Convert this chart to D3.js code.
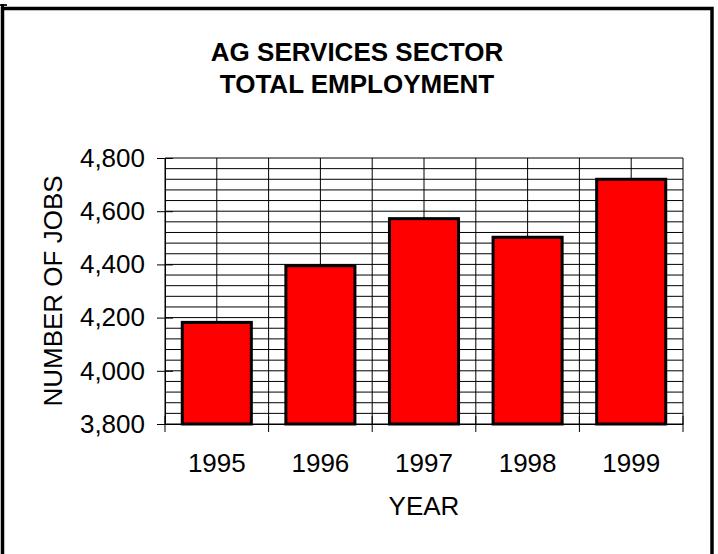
<!DOCTYPE html>
<html>
<head>
<meta charset="utf-8">
<script src="https://cdn.jsdelivr.net/npm/d3@7"></script>
<style>
  body { margin: 0; background: #fff; }
  text { font-family: "Liberation Sans", Arial, sans-serif; fill: #000; }
</style>
</head>
<body>
<svg></svg>
<script>
// data
var years = ["1995", "1996", "1997", "1998", "1999"];
var jobs = [4182, 4395, 4572, 4502, 4720];
var yTicks = [3800, 4000, 4200, 4400, 4600, 4800];
var yMinor = d3.range(3800, 4801, 40);
var titleLines = ["AG SERVICES SECTOR", "TOTAL EMPLOYMENT"];

var width = 718, height = 554;
var svg = d3.select("svg").attr("width", width).attr("height", height);

var plot = { left: 165, right: 683, top: 158, bottom: 424 };
var fs = 26;

var x = d3.scaleBand()
    .domain(years)
    .range([plot.left, plot.right])
    .paddingInner(1 / 3)
    .paddingOuter(1 / 6);
var y = d3.scaleLinear().domain([3800, 4800]).range([plot.bottom, plot.top]);

// outer frame (bottom edge runs off the page)
svg.append("rect")
    .attr("x", 2.5).attr("y", 8.5)
    .attr("width", 709.5).attr("height", 600)
    .attr("fill", "none").attr("stroke", "#000").attr("stroke-width", 3.5);
svg.append("line")
    .attr("x1", 0).attr("x2", 7).attr("y1", 5).attr("y2", 5)
    .attr("stroke", "#222").attr("stroke-width", 2);
svg.append("line")
    .attr("x1", 2.5).attr("x2", 2.5).attr("y1", 4).attr("y2", 10)
    .attr("stroke", "#000").attr("stroke-width", 3);

// title
svg.append("g").selectAll("text")
    .data(titleLines)
    .enter().append("text")
    .attr("x", 357)
    .attr("y", function (d, i) { return 61 + i * 32 })
    .attr("text-anchor", "middle")
    .attr("font-size", fs)
    .attr("font-weight", "bold")
    .text(function (d) { return d });

// grid: horizontal every 40, vertical at category edges and centres
var step = x.step();
var half = step * x.paddingInner() / 2;
var vLines = [];
years.forEach(function (c) {
    vLines.push(x(c) - half);
    vLines.push(x(c) + x.bandwidth() / 2);
});
vLines.push(x(years[years.length - 1]) + x.bandwidth() + half);

var grid = svg.append("g").attr("stroke", "#000").attr("stroke-width", 1);
grid.selectAll(".h")
    .data(yMinor)
    .enter().append("line")
    .attr("x1", plot.left).attr("x2", plot.right)
    .attr("y1", function (d) { return y(d) })
    .attr("y2", function (d) { return y(d) });
grid.selectAll(".v")
    .data(vLines)
    .enter().append("line")
    .attr("x1", function (d) { return d }).attr("x2", function (d) { return d })
    .attr("y1", plot.top).attr("y2", plot.bottom);

// bars
svg.append("g").selectAll("rect")
    .data(jobs)
    .enter().append("rect")
    .attr("x", function (d, i) { return x(years[i]) })
    .attr("width", x.bandwidth())
    .attr("y", function (d) { return y(d) })
    .attr("height", function (d) { return y(3800) - y(d) })
    .attr("fill", "#ff0000")
    .attr("stroke", "#000")
    .attr("stroke-width", 3);

// y axis
var yAxis = svg.append("g")
    .attr("transform", "translate(" + plot.left + ",0)")
    .call(d3.axisLeft(y).tickValues(yTicks).tickFormat(d3.format(","))
        .tickSize(8).tickSizeOuter(0).tickPadding(12));
yAxis.selectAll(".tick line").attr("x1", -8).attr("x2", 8).attr("stroke", "#000");
yAxis.select(".domain").attr("stroke", "#000");
yAxis.selectAll("text").attr("font-size", fs).attr("font-family", null).attr("fill", "#000");

// x axis: labels at centres, ticks at category edges
var xAxis = svg.append("g")
    .attr("transform", "translate(0," + plot.bottom + ")")
    .call(d3.axisBottom(x).tickSize(0).tickSizeOuter(0));
xAxis.select(".domain").attr("stroke", "#000");
xAxis.selectAll("text")
    .attr("font-size", fs).attr("font-family", null).attr("fill", "#000")
    .attr("y", 47.5).attr("dy", null);

var edges = vLines.filter(function (d, i) { return i % 2 === 0 });
svg.append("g").selectAll("line")
    .data(edges)
    .enter().append("line")
    .attr("x1", function (d) { return d }).attr("x2", function (d) { return d })
    .attr("y1", plot.bottom - 8).attr("y2", plot.bottom + 8)
    .attr("stroke", "#000");

// axis titles
svg.append("text")
    .attr("x", (plot.left + plot.right) / 2)
    .attr("y", 515)
    .attr("text-anchor", "middle")
    .attr("font-size", fs)
    .text("YEAR");
svg.append("text")
    .attr("transform", "translate(61.5," + (plot.top + plot.bottom) / 2 + ") rotate(-90)")
    .attr("text-anchor", "middle")
    .attr("font-size", fs)
    .text("NUMBER OF JOBS");
</script>
</body>
</html>
